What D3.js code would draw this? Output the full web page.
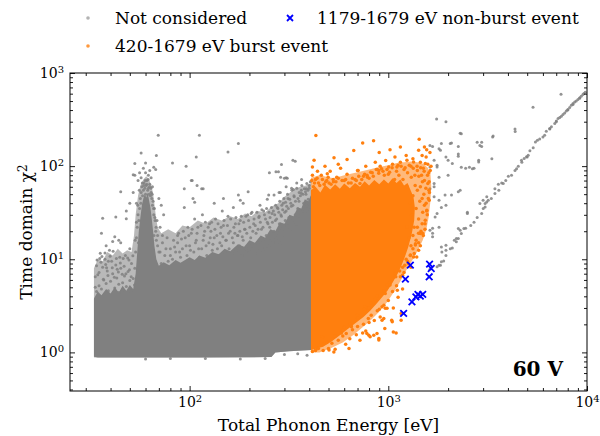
<!DOCTYPE html>
<html><head><meta charset="utf-8">
<script src="https://cdn.jsdelivr.net/npm/d3@7"></script>
<style>body{margin:0;background:#fff}svg{display:block}text{font-family:"DejaVu Serif",serif;fill:#000}</style>
</head><body>
<svg id="c" width="600" height="436"></svg>
<script>
// ---------- data ----------
const xDomain = [25, 10000];
const yDomain = [0.385, 1000];
const xMajorTicks = [100, 1000, 10000];
const yMajorTicks = [1, 10, 100, 1000];
const legendLabels = ["Not considered", "420-1679 eV burst event", "1179-1679 eV non-burst event"];
const xLabel = "Total Phonon Energy [eV]";
const yLabel = "Time domain χ";
const panelLabel = "60 V";

// outer envelope of the grey cloud (partly covered) [eV, chi2]
const grayHalo = [[33,0.88],[33,8],[34.5,10],[36.5,9.5],[38.5,12],[41,11],[43.5,13],[46,11.5],[48.5,12.5],[51,12],[52.5,18],[53.5,30],[55,48],[56.5,62],[58.5,72],[60.5,78],[62.5,72],[64.5,60],[66,45],[67.5,30],[69,22],[72,19],[78,21],[85,19],[92,23],[100,22],[110,26],[120,24],[132,28],[145,26],[160,29],[175,27],[190,31],[205,29],[220,33],[240,32],[260,37],[280,40],[300,47],[320,52],[340,57],[360,60],[385,62],[410,66],[410,1.06],[317,1.03],[270,1.0],[258,0.89],[112,0.88],[50,0.88],[34.5,0.88]];
// dense (fully covered) envelope of the grey cloud [eV, chi2]
const grayCore = [[33,0.9],[33,3.8],[34.5,4.5],[36,4.1],[38,4.8],[40,4.3],[42,5.0],[44,4.4],[46,5.2],[48,4.6],[50,5.3],[52,4.8],[53.5,7],[54.5,12],[55.5,20],[56.5,28],[57.5,38],[58.5,45],[59.5,50],[60.5,46],[61.5,52],[62.5,43],[63.5,36],[64.5,27],[65.5,20],[66.5,14],[68,10],[70,8.5],[74,9.3],[79,8.6],[85,9.8],[90,9.2],[100,10.5],[106,9.8],[112,11],[120,10.4],[130,12],[140,11.3],[150,13],[160,12.2],[175,14.5],[188,13.6],[200,16],[213,15],[228,18],[240,17],[255,21],[270,20],[285,25],[300,24],[318,30],[333,29],[350,36],[365,35],[380,44],[395,42],[410,50],[410,1.06],[317,1.03],[270,1.0],[258,0.89],[112,0.88],[50,0.88],[34.5,0.88]];

// individual grey points [eV, chi2]
const grayPts = [
[34,4.5],[35,5.2],[36,4.8],[37,6],[38,5.5],[39,4.6],[40,5.8],[41,7],[42,4.9],[43,6.3],[44,5.4],[45,8],[46,4.7],[47,6.6],[48,5.1],[49,7.4],[50,5.9],[51,9],[52,6.2],[34.5,6.8],[36.5,8.2],[38.5,7.5],[40.5,9.5],[42.5,8.7],[44.5,10.5],[47.5,11],[49.5,9.8],[35.5,11.6],[37.5,10],[39.5,12.5],[36,19],[36.5,27.5],[42.5,28.5],[45,15],[48,27.3],[41,15.5],[50,13],[38,14],[33.5,5],[44,4.4],[46,5.6],[50.5,4.6],[52.8,5.3],[43.2,7.8],[39,9.5],[42,17.4],[44,16],[37.5,11.7],[35.3,10.2],[53,80],[45,53],
[33.5,6.5],[34,8.5],[35,7.2],[35.8,9.3],[36.8,6.1],[37.8,8.8],[38.8,6.7],[39.8,10.8],[40.8,8.1],[41.8,6.4],[42.8,10.2],[43.8,7.3],[44.8,9.1],[45.8,6.9],[46.8,8.4],[47.8,7.0],[48.8,10.3],[49.8,7.7],[50.8,6.5],[51.8,10.9],[34.2,9.8],[36.2,10.7],[41.2,12.2],[46.3,10.2],[38.2,8.1],
[53,8],[53.5,12],[54,17],[54.5,22],[55,30],[55.5,26],[56,35],[56.5,45],[57,52],[57.5,60],[58,48],[58.5,55],[59,66],[59.5,58],[60,50],[60.5,62],[61,70],[61.5,55],[62,58],[62.5,50],[63,64],[63.5,48],[64,52],[64.5,45],[65,38],[65.5,42],[66,30],[67,26],[67.5,20],[68,16],[69,14],[70,12],[66.5,35],[57,138],[68,130],[53,107],[60,108],[66,97],[67.5,92],[52,81],[52,52],[69.5,215],[56,85],[62,80],[58.5,95],[64,75],[55,70],[50,40],[48,33],[70,45],[72,38],[74,30],[71,22],[73,18],[54,40],[60,85],[63,90],[57,75],[65,60],
[54,25],[54.8,38],[55.8,55],[56.8,40],[57.8,66],[58.8,62],[59.8,70],[60.8,64],[61.8,72],[62.8,60],[63.8,58],[64.8,50],[65.8,35],[66.8,28],[67.8,22],[69,18],[55.2,15],[66.2,18],[53.2,16],[68.5,26],
[72,9],[75,11],[78,9.5],[80,13],[82,10],[85,12],[87,15],[90,10.5],[92,13],[95,17],[97,11],[100,14],[102,19],[105,12],[108,16],[110,22],[112,10.5],[115,13],[118,18],[120,25],[122,11],[125,15],[128,20],[130,12.5],[133,17],[135,27],[138,13],[140,11],[143,19],[145,14],[148,23],[150,12],[153,16],[156,29],[158,13],[160,20],[163,11.5],[166,15],[170,24],[172,12.5],[175,18],[178,14],[180,26],[183,11],[186,16],[190,21],[193,13],[196,30],[200,12],[203,17],[206,14],[210,24],[213,11.5],[216,19],[220,15],[223,28],[226,12.5],[230,21],[233,16],[236,33],[240,13],[243,18],[246,25],[250,14],[253,22],[256,17],[260,31],[263,15],[266,20],[270,26],[273,17],[276,36],[280,19],[283,24],[286,15],[290,29],[293,21],[296,40],[300,18],[303,26],[306,33],[310,23],[313,45],[316,28],[320,21],[325,37],[330,26],[335,48],[340,30],[345,24],[350,35],[355,42],[360,29],[365,55],[370,33],[375,40],[380,31],[385,50],[390,37],[395,44],[400,58],[405,34],[88,19],[98,22],[106,27],[116,30],[126,24],[146,33],[166,36],[186,40],[206,32],[226,38],[246,44],[266,49],[286,52],[306,60],[326,58],[346,66],[366,72],
[71,12],[73,15],[76,13],[77,17],[80,11],[83,16],[84,13.5],[87,18],[89,12],[91,16.5],[93,20],[96,14],[99,18],[101,12.5],[103,21],[107,15],[109,19],[111,13],[114,23],[117,16],[119,20],[121,14],[124,22],[127,17],[129,25],[131,14.5],[134,21],[137,18],[139,24],[142,15],[144,22],[147,17.5],[149,26],[152,16],[155,23],[157,19],[161,27],[164,17],[167,22],[169,19],[171,28],[174,18],[177,24],[179,20],[182,29],[184,17.5],[187,25],[189,21],[192,29],[194,19],[198,26],[201,22],[204,31],[208,20],[211,27],[214,23],[218,32],[221,21],[224,29],[227,25],[231,34],[234,22],[238,30],[241,27],[244,35],[248,24],[251,32],[254,28],[258,36],[261,25],[264,33],[268,30],[271,38],[274,27],[278,35],[281,32],[284,42],[288,30],[291,38],[294,34],[298,45],[301,32],[304,41],[308,37],[311,50],[314,35],[319,44],[323,40],[327,55],[331,38],[336,47],[341,42],[346,58],[351,45],[356,52],[361,48],[367,62],[372,50],[378,57],[383,53],[389,65],[394,55],[400,62],[405,68],
[82,108],[96,100],[108,125],[112,215],[156,142],[176,175],[102,70],[94,57],[115,57],[176,49],[197,53],[252,85],[272,87],[290,104],[331,116],[300,74],[310,74],[94,36],[104,45],[106,41],[133,40],[148,45],[180,43],[250,49],[287,76],[306,75],[282,52],[333,56],[365,51],[387,57],[109,62],[117,57],[340,113],[103,70],[280,87],
[300,0.95],[350,0.97],[390,0.93],[240,0.86],[180,0.85],[120,0.86],[80,0.86],[60,0.85],
[1750,320],[1950,300],[2300,225],[2080,177],[1670,162],[1830,148],[2800,180],[2950,180],[2950,162],[3370,210],[4340,250],[4350,235],[5350,430],[7400,590],[2250,162],[2250,128],[1950,125],[2000,116],[2330,97],[2560,97],[2700,95],[2850,111],[3320,120],[1700,116],[1760,98],[1800,76],[2000,80],[2300,55],[2250,53],[1930,49],[2080,49],[1700,60],[1800,43],[1850,36],[1760,31],[1670,21.5],[1800,22],[1670,19],[2300,20.5],[2450,21.5],[2500,31],[2200,16.7],
[1850,13.5],[1950,12.5],[2100,13.2],[2200,15.4],[1760,8.3],[1830,8.6],[1900,9.6],[1620,7.8],[2400,21.4],[2150,16],[1950,14.1],[2050,13],[1860,12],[1800,8.6],[1850,9.4],[1620,20.5],[1670,17.5],[1720,28.5],[1620,57],[1700,65],[1620,98],[1760,102],[1800,154],[1850,175],[2050,175],[2330,223],[2250,135],[2100,107],[1950,38],[1700,47],[1620,167],[2450,95],[2500,32],[2250,16.7],[1950,11],[2890,167],[3350,206],[2650,94],[2850,116],[2250,21.4],[2330,18.9],
[3070,39.7],[3130,41.3],[3185,43],[3005,35.1],[2950,31],[3070,36.5],[3440,50.8],[3580,64],[3720,66],[3790,65],[4020,78],[4170,80],[4340,90],[4420,94],[4510,100],[4680,116],[4830,121],[4960,126],[5060,131],[5160,146],[5360,158],[5500,182],[5630,190],[5780,196],[6120,215],[6240,237],[6490,253],[6620,264],[6880,287],[7010,305],[7150,324],[7290,332],[7430,343],[7570,358],[7720,372],[7870,391],[8020,405],[8180,425],[8340,450],[8500,470],[8670,489],[8830,501],[9000,519],[9180,540],[9350,562],[9540,587],[9650,601],
[2890,39.7],[3000,43],[3130,46.9],[3440,57],[2600,23],[2700,25],[2800,28],[3300,45],[3600,55],[3900,70],[4700,110],[5000,125],[6000,205],[6500,250],[7000,300],[8000,400],[8500,460],[9200,540],[9800,620]
];

// outer envelope of the orange cloud (partly covered) [eV, chi2]
const orangeHalo = [[408,1.0],[408,75],[450,80],[530,74],[600,80],[700,86],[800,92],[900,98],[1000,102],[1100,108],[1200,110],[1300,112],[1400,110],[1500,106],[1580,96],[1630,82],[1645,60],[1625,40],[1595,28],[1555,21],[1490,16],[1410,12.5],[1330,10],[1240,7.8],[1150,5.8],[1070,4.5],[990,3.5],[910,2.8],[830,2.3],[750,1.9],[670,1.55],[590,1.28],[510,1.1],[450,1.0]];
// dense envelope of the orange cloud [eV, chi2]
const orangeCore = [[408,1.06],[408,55],[430,60],[455,52],[480,63],[510,56],[540,64],[570,57],[600,65],[640,58],[680,66],[720,60],[760,69],[800,62],[850,71],[900,64],[950,72],[1000,65],[1050,74],[1100,66],[1150,72],[1200,62],[1250,66],[1300,54],[1340,46],[1360,36],[1350,26],[1310,18.5],[1260,13.5],[1210,10.5],[1160,8.4],[1110,6.9],[1050,5.6],[990,4.6],[930,3.9],[870,3.3],[810,2.8],[750,2.4],[690,2.1],[630,1.8],[575,1.55],[520,1.32],[470,1.15]];

// individual orange points [eV, chi2]
const orangePts = [
[432,213],[743,177],[843,187],[670,147],[533,123],[1430,194],[1421,148],[1480,130],[423,116],[415,98],[493,83],[503,66],[705,90],[782,80],[896,90],[1005,98],[1119,102],[1241,116],[1340,111],[1535,107],[1626,90],[1581,65],[1607,43],[1563,33.6],[1535,26.3],[1449,18.9],[1368,14.2],[1291,11.1],
[420,60],[430,72],[445,66],[460,80],[475,64],[490,70],[510,88],[530,68],[550,76],[575,95],[600,70],[620,82],[650,66],[680,72],[700,90],[720,65],[750,78],[770,100],[800,74],[830,85],[860,110],[880,92],[910,100],[940,88],[970,115],[1000,82],[1050,105],[1080,125],[1100,88],[1150,110],[1200,92],[1230,130],[1250,85],[1300,100],[1330,120],[1360,80],[1400,90],[1450,110],[1470,80],[1500,95],[1520,70],[1550,125],[1580,105],[1600,85],[1640,100],[1620,140],[1560,150],[1520,160],[480,100],[620,118],[900,140],[1020,150],[1150,160],[560,105],[440,88],[415,80],
[1450,60],[1480,45],[1520,38],[1560,33],[1600,55],[1480,24],[1400,22],[1420,15],[1330,13],[1250,9.5],[1200,7.2],[1300,8.2],[1150,6.5],[1100,5.2],[1180,4.8],[1050,4.5],[1000,3.6],[950,3.2],[900,2.9],[1120,3.9],[1060,3.0],[1421,12.5],[1390,10.6],[1086,7.04],[1110,4.66],[1005,5.5],[965,4.3],[767,3.09],[793,2.31],[965,2.97],[1047,2.13],[1160,2.22],[949,2.31],[960,1.81],[1095,1.62],[877,1.6],[845,1.53],[896,1.36],[743,1.62],[798,1.53],[1180,6.75],[1340,10.6],[1370,14.7],[1490,18.9],[985,5.27],[985,2.97],[1160,2.62],[1040,2.22],[930,2.22],[1060,1.66],
[470,1.05],[500,1.1],[520,1.25],[540,1.08],[560,1.35],[590,1.5],[610,1.22],[640,1.4],[660,1.75],[690,1.55],[700,1.9],[720,1.35],[750,2.0],[770,1.7],[800,2.1],[820,2.5],[850,2.2],[880,2.8],[910,2.4],[930,3.1],[860,3.7],[800,3.0],[760,2.8],[700,2.35],[650,1.95],[600,1.85],[580,1.62],[430,1.05],[440,1.12],[460,1.28],[415,1.02],[431,1.06],[503,1.06],[532,1.01],[634,1.1],[466,1.47],[614,1.6],[652,1.88],[780,1.6],[810,1.47],[896,1.41],
[412,70],[425,66],[438,74],[452,62],[466,72],[484,68],[498,76],[515,64],[528,72],[545,68],[560,74],[585,70],[610,72],[630,66],[660,74],[690,70],[710,78],[735,72],[760,82],[785,76],[815,86],[840,78],[870,92],[895,84],[925,94],[955,80],[985,92],[1015,86],[1045,96],[1075,72],[1105,98],[1130,80],[1160,100],[1185,72],[1215,96],[1245,60],[1275,102],[1305,76],[1335,95],[1365,62],[1395,100],[1425,78],[1455,96],[1485,68],[1515,88],[1545,58],[1575,80],[1605,68],
[1290,40],[1310,30],[1330,48],[1350,22],[1380,35],[1400,55],[1420,27],[1440,42],[1460,20],[1490,32],[1510,50],[1530,24],[1550,40],[1570,30],[1590,45],[1610,52],[1240,22],[1270,17],[1300,14],[1330,18],[1350,11.5],[1380,16],[1420,19],[1450,14],[1500,18],[1530,21],[1290,11],[1230,10],[1260,9],[1180,8.2],[1210,8.6],[1140,7.5],[1090,6.5],[1020,5.3],[950,4.6],[880,4.0],[820,3.4],[760,2.9],[700,2.5],[640,2.0],[590,1.75],[540,1.5],[490,1.28],[445,1.1]
];

// blue crosses [eV, chi2]
const bluePts = [[1291,8.64],[1613,8.86],[1644,7.96],[1606,6.48],[1219,6.12],[1410,4.19],[1449,4.02],[1377,3.95],[1490,4.2],[1315,3.49],[1194,2.62]];

// ---------- drawing ----------
const m = {l:70, r:587, t:73, b:391};
const GRAY = "#808080", ORANGE = "#ff7f0e", BLUE = "#0000ff";
const x = d3.scaleLog().domain(xDomain).range([m.l, m.r]);
const y = d3.scaleLog().domain(yDomain).range([m.b, m.t]);
const svg = d3.select("#c");

svg.append("defs").append("clipPath").attr("id","clip").append("rect")
  .attr("x", m.l).attr("y", m.t).attr("width", m.r-m.l).attr("height", m.b-m.t);
const plot = svg.append("g").attr("clip-path","url(#clip)");
const line = d3.line().x(d=>x(d[0])).y(d=>y(d[1])).curve(d3.curveLinearClosed);

plot.append("path").attr("d", line(grayHalo)).attr("fill", GRAY).attr("fill-opacity", 0.55);
plot.append("path").attr("d", line(grayCore)).attr("fill", GRAY);
plot.append("g").selectAll("circle").data(grayPts).join("circle")
  .attr("cx", d=>x(d[0])).attr("cy", d=>y(d[1])).attr("r", 1.5)
  .attr("fill", GRAY).attr("fill-opacity", 0.85);
plot.append("path").attr("d", line(orangeHalo)).attr("fill", ORANGE).attr("fill-opacity", 0.55);
plot.append("path").attr("d", line(orangeCore)).attr("fill", ORANGE);
plot.append("g").selectAll("circle").data(orangePts).join("circle")
  .attr("cx", d=>x(d[0])).attr("cy", d=>y(d[1])).attr("r", 1.75).attr("fill", ORANGE);
const cross = "M-3.3,-3.3L3.3,3.3M-3.3,3.3L3.3,-3.3";
plot.append("g").selectAll("path").data(bluePts).join("path")
  .attr("transform", d=>`translate(${x(d[0])},${y(d[1])})`).attr("d", cross)
  .attr("stroke", BLUE).attr("stroke-width", 1.8).attr("fill","none");

// axes
const xMinor = x.ticks().filter(v => !xMajorTicks.includes(v) && v >= xDomain[0]);
const yMinor = y.ticks().filter(v => !yMajorTicks.includes(v) && v >= yDomain[0]);
function supLabel(sel){
  sel.selectAll(".tick text").each(function(d){
    const t = d3.select(this); t.text(null);
    t.append("tspan").text("10");
    t.append("tspan").attr("dy","-0.5em").attr("font-size","10px").text(Math.round(Math.log10(d)));
  });
}
function styleAxis(g){ g.select(".domain").remove(); g.selectAll("line").attr("stroke","#000").attr("stroke-width",0.9); g.selectAll("text").attr("font-family","DejaVu Serif").attr("font-size",14).attr("fill","#000"); }

svg.append("g").attr("transform",`translate(0,${m.b})`)
  .call(d3.axisBottom(x).tickValues(xMajorTicks).tickSizeInner(-5).tickSizeOuter(0).tickPadding(6))
  .call(styleAxis).call(supLabel);
svg.append("g").attr("transform",`translate(0,${m.b})`)
  .call(d3.axisBottom(x).tickValues(xMinor).tickSizeInner(-3).tickSizeOuter(0).tickFormat(""))
  .call(styleAxis);
svg.append("g").attr("transform",`translate(0,${m.t})`)
  .call(d3.axisTop(x).tickValues(xMajorTicks).tickSizeInner(-5).tickSizeOuter(0).tickFormat(""))
  .call(styleAxis);
svg.append("g").attr("transform",`translate(0,${m.t})`)
  .call(d3.axisTop(x).tickValues(xMinor).tickSizeInner(-3).tickSizeOuter(0).tickFormat(""))
  .call(styleAxis);
svg.append("g").attr("transform",`translate(${m.l},0)`)
  .call(d3.axisLeft(y).tickValues(yMajorTicks).tickSizeInner(-5).tickSizeOuter(0).tickPadding(6))
  .call(styleAxis).call(supLabel);
svg.append("g").attr("transform",`translate(${m.l},0)`)
  .call(d3.axisLeft(y).tickValues(yMinor).tickSizeInner(-3).tickSizeOuter(0).tickFormat(""))
  .call(styleAxis);
svg.append("g").attr("transform",`translate(${m.r},0)`)
  .call(d3.axisRight(y).tickValues(yMajorTicks).tickSizeInner(-5).tickSizeOuter(0).tickFormat(""))
  .call(styleAxis);
svg.append("g").attr("transform",`translate(${m.r},0)`)
  .call(d3.axisRight(y).tickValues(yMinor).tickSizeInner(-3).tickSizeOuter(0).tickFormat(""))
  .call(styleAxis);

svg.append("rect").attr("x", m.l).attr("y", m.t).attr("width", m.r-m.l).attr("height", m.b-m.t)
  .attr("fill","none").attr("stroke","#000").attr("stroke-width",1);

// axis titles
svg.append("text").attr("x", (m.l+m.r)/2).attr("y", 431).attr("text-anchor","middle")
  .attr("font-size",17).text(xLabel);
const yl = svg.append("text").attr("transform",`translate(32,${(m.t+m.b)/2}) rotate(-90)`)
  .attr("text-anchor","middle").attr("font-size",17);
yl.append("tspan").text(yLabel);
yl.append("tspan").attr("dy","-0.45em").attr("font-size","12px").text("2");

svg.append("text").attr("x",563).attr("y",376).attr("text-anchor","end")
  .attr("font-size",20).attr("font-weight","bold").text(panelLabel);

// legend
const lg = svg.append("g");
lg.append("circle").attr("cx",88).attr("cy",18).attr("r",1.8).attr("fill",GRAY).attr("fill-opacity",0.6);
lg.append("text").attr("x",115).attr("y",24).attr("font-size",17).text(legendLabels[0]);
lg.append("circle").attr("cx",88).attr("cy",46).attr("r",1.8).attr("fill",ORANGE).attr("fill-opacity",0.8);
lg.append("text").attr("x",115).attr("y",52).attr("font-size",17).text(legendLabels[1]);
lg.append("path").attr("transform","translate(290,18)").attr("d","M-3,-3L3,3M-3,3L3,-3")
  .attr("stroke",BLUE).attr("stroke-width",1.8);
lg.append("text").attr("x",317).attr("y",24).attr("font-size",17).text(legendLabels[2]);
</script>
</body></html>
